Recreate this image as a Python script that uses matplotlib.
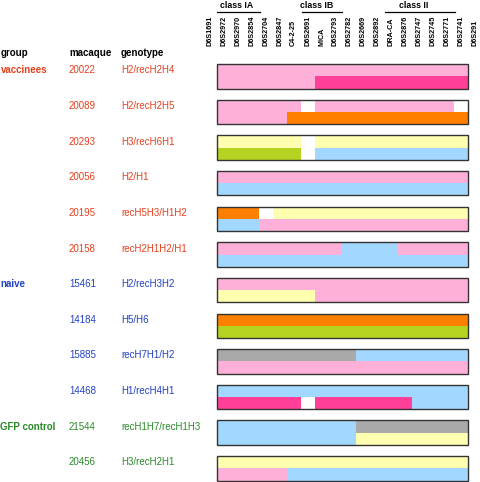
import matplotlib
matplotlib.use("Agg")
import matplotlib.pyplot as plt
from matplotlib.transforms import blended_transform_factory
from itertools import groupby

plt.rcParams["font.family"] = ["Liberation Sans", "DejaVu Sans"]

# markers along the chromosome (only the inner 18 are typed)
markers = ["D6S1691", "D6S2972", "D6S2970", "D6S2854", "D6S2704", "D6S2847",
           "C4-2-25", "D6S2691", "MICA", "D6S2793", "D6S2782", "D6S2669",
           "D6S2892", "DRA-CA", "D6S2876", "D6S2747", "D6S2745", "D6S2771",
           "D6S2741", "D6S291"]
first_typed = 1

classes = ["class IA", "class IB", "class II"]
class_spans = [(0.5, 3.6), (6.6, 9.5), (12.55, 17.6)]
class_text_x = [1.94, 7.68, 14.63]

macaques = ["20022", "20089", "20293", "20056", "20195", "20158",
            "15461", "14184", "15885", "14468", "21544", "20456"]
genotypes = ["H2/recH2H4", "H2/recH2H5", "H3/recH6H1", "H2/H1",
             "recH5H3/H1H2", "recH2H1H2/H1", "H2/recH3H2", "H5/H6",
             "recH7H1/H2", "H1/recH4H1", "recH1H7/recH1H3", "H3/recH2H1"]
row_group = ["vaccinees", "vaccinees", "vaccinees", "vaccinees", "vaccinees", "vaccinees",
             "naive", "naive", "naive", "naive", "GFP control", "GFP control"]

# haplotype per typed marker, '-' = not determined
hap_top = ["222222222222222222",
           "222222-2222222222-",
           "333333-33333333333",
           "222222222222222222",
           "555-33333333333333",
           "222222222111122222",
           "222222222222222222",
           "555555555555555555",
           "777777777711111111",
           "111111111111111111",
           "111111111177777777",
           "333333333333333333"]
hap_bot = ["222222244444444444",
           "222225555555555555",
           "666666-11111111111",
           "111111111111111111",
           "111222222222222222",
           "111111111111111111",
           "333333322222222222",
           "666666666666666666",
           "222222222222222222",
           "444444-44444441111",
           "111111111133333333",
           "222221111111111111"]

hap_colors = {"1": "#a2d8ff", "2": "#ffb0d8", "3": "#ffffb0", "4": "#ff3f98",
              "5": "#ff8000", "6": "#b6d322", "7": "#a9a9a9", "-": "white"}
group_colors = {"vaccinees": "#e5401e", "naive": "#2040c0", "GFP control": "#2a8a2a"}

# layout (pixels)
W, H = 480, 482
col_px, x0 = 13.94, 210.0
row_px, y0 = 35.64, 76.3
half = 12.25 / row_px

fig = plt.figure(figsize=(W / 100, H / 100), dpi=100)
ax = fig.add_axes([0, 0, 1, 1])
ax.set_xlim(-x0 / col_px, (W - x0) / col_px)
ax.set_ylim((H - y0) / row_px, -y0 / row_px)
ax.axis("off")

def py(p):
    return (p - y0) / row_px

for i in range(len(macaques)):
    for hap, top in ((hap_top[i], i - half), (hap_bot[i], i)):
        pos = first_typed
        for code, run in groupby(hap):
            n = len(list(run))
            ax.barh(top, n, left=pos - 0.5, height=half, align="edge",
                    color=hap_colors[code], edgecolor="none", linewidth=0)
            pos += n
    ax.add_patch(plt.Rectangle((first_typed - 0.5, i - half), len(hap_top[i]), 2 * half,
                               fill=False, edgecolor="#333333", linewidth=1.0))

# marker labels
for k, m in enumerate(markers):
    ax.text(k, py(46), m, rotation=90, ha="center", va="bottom",
            fontsize=5.2, fontweight="bold")

for name, (a, b), tx in zip(classes, class_spans, class_text_x):
    ax.plot([a, b], [py(12), py(12)], color="black", linewidth=0.9)
    ax.text(tx, py(8.5), name, ha="center", va="baseline", fontsize=6.3, fontweight="bold")

# left columns
tr = blended_transform_factory(ax.transAxes, ax.transData)
for x, h in ((0.5, "group"), (69, "macaque"), (121, "genotype")):
    ax.text(x / W, py(56), h, transform=tr, fontsize=7, fontweight="bold", va="baseline")

prev = None
for i in range(len(macaques)):
    c = group_colors[row_group[i]]
    y = i - 3.0 / row_px
    if row_group[i] != prev:
        ax.text(0.5 / W, y, row_group[i], transform=tr, fontsize=7, fontweight="bold",
                color=c, va="baseline")
        prev = row_group[i]
    ax.text(69 / W, y, macaques[i], transform=tr, fontsize=7, color=c, va="baseline")
    ax.text(121 / W, y, genotypes[i], transform=tr, fontsize=7, color=c, va="baseline")

fig.savefig("out.png", dpi=100)
